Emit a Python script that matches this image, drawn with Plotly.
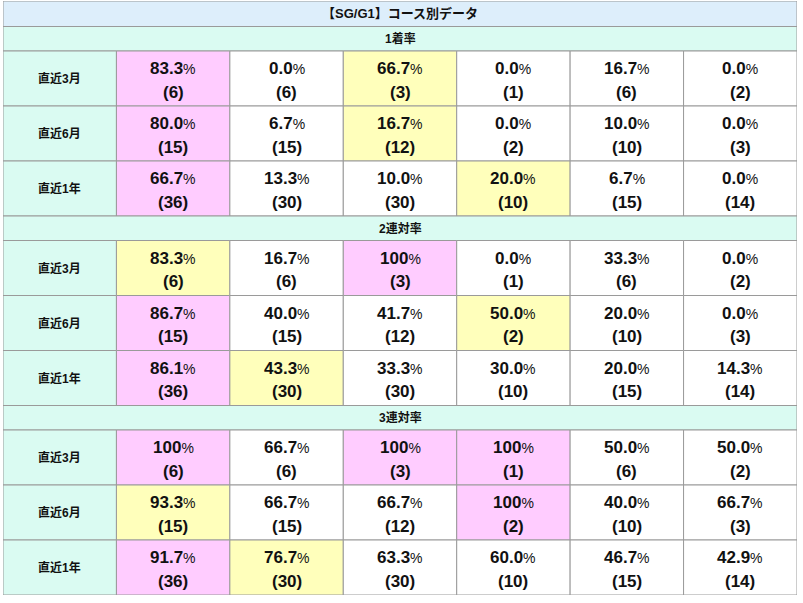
import plotly.graph_objects as go

title_text = "【SG/G1】コース別データ"
sections = ["1着率", "2連対率", "3連対率"]
periods = ["直近3月", "直近6月", "直近1年"]

rate_1st = [[83.3, 0.0, 66.7, 0.0, 16.7, 0.0],
            [80.0, 6.7, 16.7, 0.0, 10.0, 0.0],
            [66.7, 13.3, 10.0, 20.0, 6.7, 0.0]]
rate_2nd = [[83.3, 16.7, 100, 0.0, 33.3, 0.0],
            [86.7, 40.0, 41.7, 50.0, 20.0, 0.0],
            [86.1, 43.3, 33.3, 30.0, 20.0, 14.3]]
rate_3rd = [[100, 66.7, 100, 100, 50.0, 50.0],
            [93.3, 66.7, 66.7, 100, 40.0, 66.7],
            [91.7, 76.7, 63.3, 60.0, 46.7, 42.9]]
counts = [[6, 6, 3, 1, 6, 2],
          [15, 15, 12, 2, 10, 3],
          [36, 30, 30, 10, 15, 14]]

section_rates = [rate_1st, rate_2nd, rate_3rd]

# styling
BORDER = "#9a9a9a"
TITLE_BG = "#ddeefb"
MINT = "#dafbf2"
PINK = "#ffccff"
YELLOW = "#ffffbb"
WHITE = "#ffffff"
FONT = "Liberation Sans, Arial, Helvetica, Noto Sans CJK JP, sans-serif"
TXT = "#111111"

H_TITLE, H_SEC, H_ROW = 25.5, 24.5, 55.0
NCOL = 7

def fmt(v):
    return "100" if v == 100 else f"{v:.1f}"

shapes = []
annotations = []

def rect(x0, x1, y0, y1, color):
    shapes.append(dict(type="rect", xref="x", yref="y", x0=x0, x1=x1, y0=y0, y1=y1,
                       fillcolor=color, line=dict(color=BORDER, width=1), layer="below"))

def text(x, y, s, size, bold=True):
    annotations.append(dict(x=x, y=y, xref="x", yref="y", text=(f"<b>{s}</b>" if bold else s),
                            showarrow=False, xanchor="center", yanchor="middle",
                            font=dict(family=FONT, size=size, color=TXT)))

y = 0.0
rect(0, NCOL, y, y + H_TITLE, TITLE_BG)
text(NCOL / 2, y + H_TITLE / 2, title_text, 13)
y += H_TITLE

for si, sec in enumerate(sections):
    rect(0, NCOL, y, y + H_SEC, MINT)
    text(NCOL / 2, y + H_SEC / 2, sec, 12)
    y += H_SEC
    rates = section_rates[si]
    for ri, per in enumerate(periods):
        rect(0, 1, y, y + H_ROW, MINT)
        text(0.5, y + H_ROW / 2, per, 12)
        row = rates[ri]
        for ci, v in enumerate(row):
            rank = 1 + sum(1 for o in row if o > v)
            color = PINK if rank == 1 else (YELLOW if rank == 2 else WHITE)
            x0 = ci + 1
            rect(x0, x0 + 1, y, y + H_ROW, color)
            annotations.append(dict(
                x=x0 + 0.5, y=y + 17.5, xref="x", yref="y", showarrow=False,
                xanchor="center", yanchor="middle",
                text=f"<b>{fmt(v)}</b><span style='font-size:14px'>%</span>",
                font=dict(family=FONT, size=17, color=TXT)))
            annotations.append(dict(
                x=x0 + 0.5, y=y + 41.0, xref="x", yref="y", showarrow=False,
                xanchor="center", yanchor="middle",
                text=f"<b>({counts[ri][ci]})</b>",
                font=dict(family=FONT, size=17, color=TXT)))
        y += H_ROW

total_h = y

fig = go.Figure()
fig.add_trace(go.Scatter(x=[0, NCOL], y=[0, total_h], mode="markers",
                         marker=dict(opacity=0), hoverinfo="skip", showlegend=False))
fig.update_layout(
    width=803, height=603,
    margin=dict(l=3, r=6, t=1, b=8),
    paper_bgcolor="white", plot_bgcolor="white",
    xaxis=dict(range=[0, NCOL], visible=False, fixedrange=True),
    yaxis=dict(range=[total_h, 0], visible=False, fixedrange=True),
    shapes=shapes, annotations=annotations, showlegend=False,
)
fig.write_html("out.html", config={"displayModeBar": False},
               post_script="document.body.style.margin='0';document.body.style.overflow='hidden';")
